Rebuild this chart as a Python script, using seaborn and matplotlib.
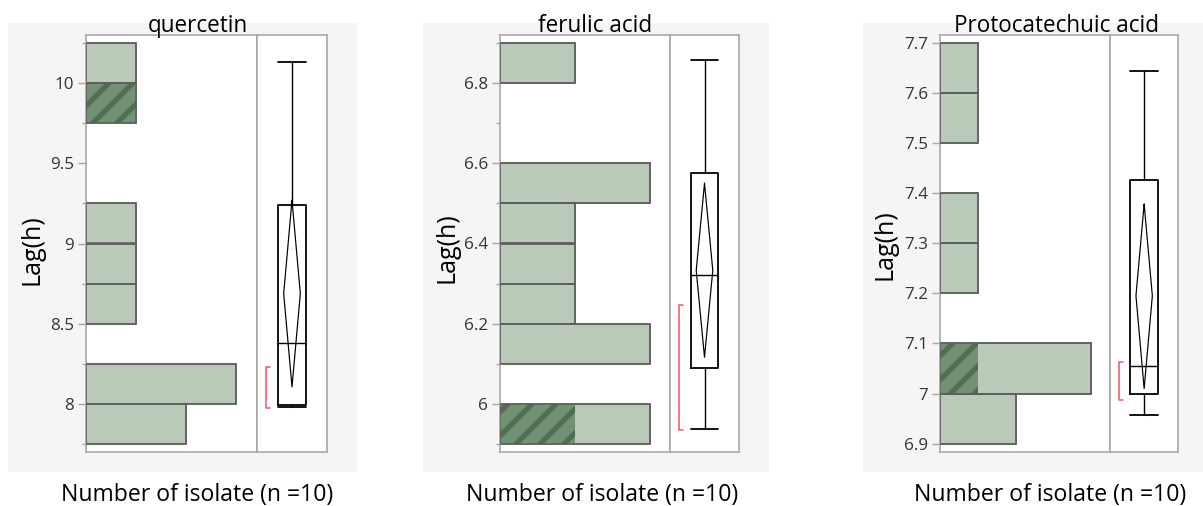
import numpy as np
import pandas as pd
import matplotlib
matplotlib.use("Agg")
import matplotlib.pyplot as plt
from matplotlib.patches import Rectangle
import seaborn as sns

# ---------------------------------------------------------------- data
compounds = ["quercetin", "ferulic acid", "Protocatechuic acid"]
x_label = "Number of isolate (n =10)"
y_label = "Lag(h)"

# histogram bin edges and isolate counts per bin (marked = highlighted isolates)
quercetin_edges = [7.75, 8.0, 8.25, 8.5, 8.75, 9.0, 9.25, 9.5, 9.75, 10.0, 10.25]
quercetin_counts = [2, 3, 0, 1, 1, 1, 0, 0, 1, 1]
quercetin_marked = [0, 0, 0, 0, 0, 0, 0, 0, 1, 0]

ferulic_edges = [5.9, 6.0, 6.1, 6.2, 6.3, 6.4, 6.5, 6.6, 6.7, 6.8, 6.9]
ferulic_counts = [2, 0, 2, 1, 1, 1, 2, 0, 0, 1]
ferulic_marked = [1, 0, 0, 0, 0, 0, 0, 0, 0, 0]

proto_edges = [6.9, 7.0, 7.1, 7.2, 7.3, 7.4, 7.5, 7.6, 7.7]
proto_counts = [2, 4, 0, 1, 1, 0, 1, 1]
proto_marked = [0, 1, 0, 0, 0, 0, 0, 0]

# box plot summary: lower whisker, Q1, median, Q3, upper whisker
quercetin_box = [7.98, 7.99, 8.38, 9.24, 10.13]
ferulic_box = [5.938, 6.09, 6.321, 6.575, 6.858]
proto_box = [6.957, 7.0, 7.055, 7.426, 7.644]

# means diamond: lower 95% limit, mean, upper 95% limit
quercetin_mean = [8.106, 8.6875, 9.27]
ferulic_mean = [6.117, 6.333, 6.55]
proto_mean = [7.01, 7.195, 7.378]

# shortest half bracket
quercetin_short = [7.977, 8.23]
ferulic_short = [5.936, 6.246]
proto_short = [6.987, 7.062]

# y tick values and labels
quercetin_ticks = [8, 8.5, 9, 9.5, 10]
quercetin_tick_labels = ["8", "8.5", "9", "9.5", "10"]
quercetin_minor = [7.75, 8.25, 8.75, 9.25, 9.75, 10.25]
ferulic_ticks = [6.0, 6.2, 6.4, 6.6, 6.8]
ferulic_tick_labels = ["6", "6.2", "6.4", "6.6", "6.8"]
ferulic_minor = [5.9, 6.1, 6.3, 6.5, 6.7, 6.9]
proto_ticks = [6.9, 7.0, 7.1, 7.2, 7.3, 7.4, 7.5, 7.6, 7.7]
proto_tick_labels = ["6.9", "7", "7.1", "7.2", "7.3", "7.4", "7.5", "7.6", "7.7"]
proto_minor = []

panels = [
    dict(name=compounds[0], edges=quercetin_edges, counts=quercetin_counts,
         marked=quercetin_marked, box=quercetin_box, mean=quercetin_mean,
         short=quercetin_short, ticks=quercetin_ticks,
         labels=quercetin_tick_labels, minor=quercetin_minor),
    dict(name=compounds[1], edges=ferulic_edges, counts=ferulic_counts,
         marked=ferulic_marked, box=ferulic_box, mean=ferulic_mean,
         short=ferulic_short, ticks=ferulic_ticks,
         labels=ferulic_tick_labels, minor=ferulic_minor),
    dict(name=compounds[2], edges=proto_edges, counts=proto_counts,
         marked=proto_marked, box=proto_box, mean=proto_mean,
         short=proto_short, ticks=proto_ticks,
         labels=proto_tick_labels, minor=proto_minor),
]

# ---------------------------------------------------------------- layout (pixels)
# the figure is rendered at 72 dpi, so point sizes below equal pixels
W, H = 1203, 506
DPI = 72
layout = [
    dict(bg=(8, 23, 357, 472), hist=(86, 35, 257.3, 452), box=(257.3, 35, 326.7, 452),
         ylim=(7.70, 10.30), xmax=3.42, title_x=197.5, xlab_x=197, ylab=(32, 250)),
    dict(bg=(423, 23, 769, 472), hist=(500, 35, 670, 452), box=(670, 35, 739, 452),
         ylim=(5.881, 6.919), xmax=2.27, title_x=595, xlab_x=602.5, ylab=(446.7, 248)),
    dict(bg=(863, 23, 1203, 472), hist=(940, 35, 1110, 452), box=(1110, 35, 1178.3, 452),
         ylim=(6.8834, 7.7154), xmax=4.5, title_x=1057, xlab_x=1050, ylab=(885, 245)),
]

BAR = "#b9cab9"
BAR_EDGE = "#5e5e5e"
SEL_FACE = "#729172"
SEL_STRIPE = "#4f6d53"
FRAME = "#a6a6a6"
RED = "#ee4f69"
BG = "#f5f5f5"

sns.set_style("white")
plt.rcParams["font.family"] = ["Open Sans", "DejaVu Sans"]
plt.rcParams["hatch.linewidth"] = 5.0

fig = plt.figure(figsize=(W / DPI, H / DPI), dpi=DPI)
fig.patch.set_facecolor("white")


def frect(x0, y0, x1, y1):
    return [x0 / W, 1 - y1 / H, (x1 - x0) / W, (y1 - y0) / H]


for p, lay in zip(panels, layout):
    bx0, by0, bx1, by1 = lay["bg"]
    fig.add_artist(Rectangle((bx0 / W, 1 - by1 / H), (bx1 - bx0) / W, (by1 - by0) / H,
                             transform=fig.transFigure, facecolor=BG,
                             edgecolor="none", zorder=0))

    edges = list(p["edges"])
    centers = [(a + b) / 2 for a, b in zip(edges[:-1], edges[1:])]
    df = pd.DataFrame({"lag": centers, "n": p["counts"], "marked": p["marked"]})

    # ---- histogram
    ax = fig.add_axes(frect(*lay["hist"]))
    ax.set_facecolor("white")
    sns.histplot(data=df, y="lag", weights="n", bins=edges, ax=ax, color=BAR,
                 alpha=1, edgecolor=BAR_EDGE, linewidth=1.5, zorder=2)
    sns.histplot(data=df, y="lag", weights="marked", bins=edges, ax=ax, color=SEL_FACE,
                 alpha=1, edgecolor=SEL_STRIPE, linewidth=0, hatch="/", zorder=3)
    sns.histplot(data=df, y="lag", weights="n", bins=edges, ax=ax, fill=False,
                 color=BAR_EDGE, linewidth=1.5, zorder=4)
    for patch in list(ax.patches):
        if patch.get_width() == 0:
            patch.remove()

    ax.set_xlim(0, lay["xmax"])
    ax.set_ylim(*lay["ylim"])
    ax.set_xticks([])
    ax.set_yticks(p["ticks"])
    ax.set_yticklabels(p["labels"])
    ax.set_yticks(p["minor"], minor=True)
    ax.tick_params(axis="y", which="major", direction="out", length=8, width=1.4,
                   color=FRAME, labelsize=17, labelcolor="#333333", pad=4, left=True)
    ax.tick_params(axis="y", which="minor", direction="out", length=4, width=1.4,
                   color=FRAME, left=True)
    ax.set_xlabel("")
    ax.set_ylabel("")
    for s in ax.spines.values():
        s.set_color(FRAME)
        s.set_linewidth(1.6)

    # ---- box plot, means diamond and shortest half
    axb = fig.add_axes(frect(*lay["box"]), sharey=ax)
    axb.set_facecolor("white")
    lo, q1, med, q3, hi = p["box"]
    axb.bxp([dict(med=med, q1=q1, q3=q3, whislo=lo, whishi=hi, fliers=[])],
            positions=[0.5], widths=0.4, capwidths=0.4, showfliers=False,
            boxprops=dict(color="black", linewidth=1.8),
            medianprops=dict(color="black", linewidth=1.4),
            whiskerprops=dict(color="black", linewidth=1.4),
            capprops=dict(color="black", linewidth=1.8))
    m_lo, m, m_hi = p["mean"]
    axb.plot([0.5, 0.38, 0.5, 0.62, 0.5], [m_hi, m, m_lo, m, m_hi],
             color="black", linewidth=1.2)
    s_lo, s_hi = p["short"]
    axb.plot([0.19, 0.13, 0.13, 0.19], [s_hi, s_hi, s_lo, s_lo],
             color=RED, linewidth=1.5)
    axb.set_xlim(0, 1)
    axb.set_xticks([])
    axb.tick_params(axis="y", which="both", left=False, labelleft=False)
    for s in axb.spines.values():
        s.set_color(FRAME)
        s.set_linewidth(1.6)

    # ---- text
    fig.text(lay["title_x"] / W, 1 - 31.5 / H, p["name"], ha="center", va="baseline",
             fontsize=22.5, color="black")
    fig.text(lay["xlab_x"] / W, 1 - 501 / H, x_label, ha="center", va="baseline",
             fontsize=23, color="black")
    fig.text(lay["ylab"][0] / W, 1 - lay["ylab"][1] / H, y_label, ha="center",
             va="center", rotation=90, fontsize=25, color="black")

fig.savefig("out.png", dpi=DPI, facecolor="white")
